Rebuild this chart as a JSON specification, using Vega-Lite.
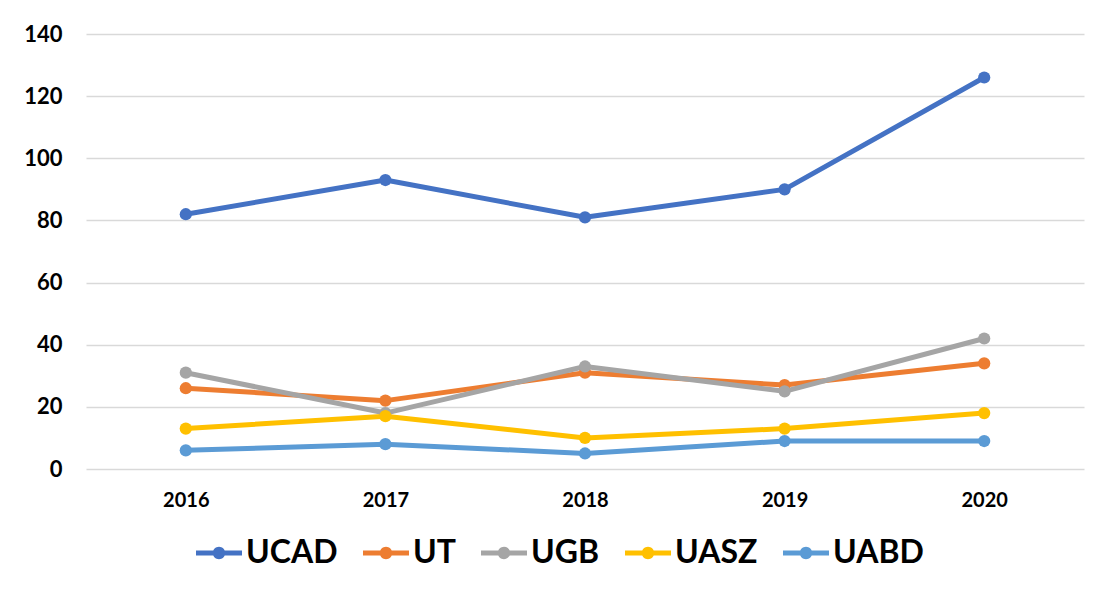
{
  "$schema": "https://vega.github.io/schema/vega-lite/v6.json",
  "autosize": "none",
  "width": 998,
  "height": 435,
  "padding": {"left": 86, "top": 34, "right": 12, "bottom": 130},
  "background": "white",
  "config": {"font": "Lato", "view": {"stroke": null}},
  "data": {
    "values": [
      {"year": "2016", "univ": "UCAD", "value": 82},
      {"year": "2017", "univ": "UCAD", "value": 93},
      {"year": "2018", "univ": "UCAD", "value": 81},
      {"year": "2019", "univ": "UCAD", "value": 90},
      {"year": "2020", "univ": "UCAD", "value": 126},
      {"year": "2016", "univ": "UT", "value": 26},
      {"year": "2017", "univ": "UT", "value": 22},
      {"year": "2018", "univ": "UT", "value": 31},
      {"year": "2019", "univ": "UT", "value": 27},
      {"year": "2020", "univ": "UT", "value": 34},
      {"year": "2016", "univ": "UGB", "value": 31},
      {"year": "2017", "univ": "UGB", "value": 18},
      {"year": "2018", "univ": "UGB", "value": 33},
      {"year": "2019", "univ": "UGB", "value": 25},
      {"year": "2020", "univ": "UGB", "value": 42},
      {"year": "2016", "univ": "UASZ", "value": 13},
      {"year": "2017", "univ": "UASZ", "value": 17},
      {"year": "2018", "univ": "UASZ", "value": 10},
      {"year": "2019", "univ": "UASZ", "value": 13},
      {"year": "2020", "univ": "UASZ", "value": 18},
      {"year": "2016", "univ": "UABD", "value": 6},
      {"year": "2017", "univ": "UABD", "value": 8},
      {"year": "2018", "univ": "UABD", "value": 5},
      {"year": "2019", "univ": "UABD", "value": 9},
      {"year": "2020", "univ": "UABD", "value": 9}
    ]
  },
  "mark": {
    "type": "line",
    "strokeWidth": 5,
    "strokeCap": "round",
    "strokeJoin": "round",
    "point": {"filled": true, "size": 150, "opacity": 1}
  },
  "encoding": {
    "x": {
      "field": "year",
      "type": "ordinal",
      "scale": {"type": "point", "padding": 0.5},
      "axis": {
        "title": null,
        "labelAngle": 0,
        "labelFont": "Lato",
        "labelFontWeight": "bold",
        "labelFontSize": 20,
        "labelColor": "black",
        "labelPadding": 21,
        "domain": false,
        "ticks": false,
        "grid": false
      }
    },
    "y": {
      "field": "value",
      "type": "quantitative",
      "scale": {"domain": [0, 140]},
      "axis": {
        "title": null,
        "values": [0, 20, 40, 60, 80, 100, 120, 140],
        "labelFont": "Lato",
        "labelFontWeight": "bold",
        "labelFontSize": 22,
        "labelColor": "black",
        "labelPadding": 24,
        "domain": false,
        "ticks": false,
        "grid": true,
        "gridColor": "#D9D9D9",
        "gridWidth": 1.5
      }
    },
    "color": {
      "field": "univ",
      "type": "nominal",
      "scale": {
        "domain": ["UCAD", "UT", "UGB", "UASZ", "UABD"],
        "range": ["#4472C4", "#ED7D31", "#A5A5A5", "#FFC000", "#5B9BD5"]
      },
      "legend": {
        "title": null,
        "orient": "none",
        "legendX": 110,
        "legendY": 496,
        "direction": "horizontal",
        "labelFont": "Lato",
        "labelFontSize": 32,
        "labelFontWeight": "bold",
        "labelColor": "black",
        "symbolType": "M-1,-0.11L1,-0.11L1,0.11L-1,0.11Z M0.27,0A0.27,0.27 0 1,1 -0.27,0A0.27,0.27 0 1,1 0.27,0Z",
        "symbolSize": 2116,
        "symbolStrokeWidth": 0,
        "labelOffset": 4,
        "columnPadding": 25,
        "encode": {
          "symbols": {
            "update": {
              "fill": {"scale": "color", "field": "value"},
              "fillOpacity": {"value": 1},
              "opacity": {"value": 1}
            }
          }
        }
      }
    }
  }
}
